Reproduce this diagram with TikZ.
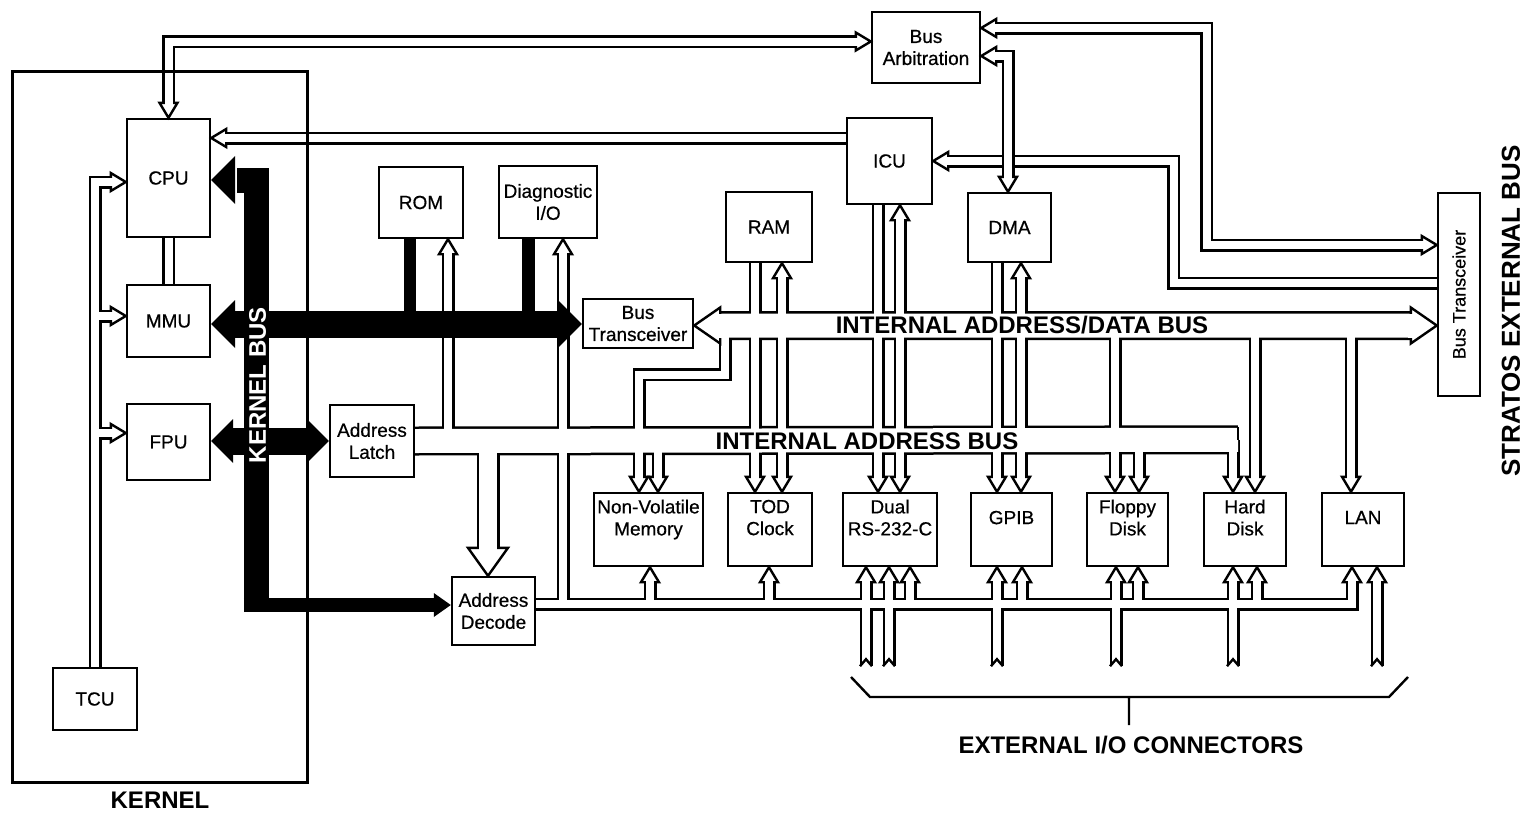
\documentclass[tikz,border=0pt]{standalone}
\usepackage{fontspec}
\setmainfont{Liberation Sans}
\newfontfamily\boxfont{Liberation Sans}[FakeBold=0.6]
\usetikzlibrary{calc,backgrounds}

\tikzset{
  box/.style={draw, line width=1.2pt, inner sep=0pt, align=center, font=\fontsize{9.5}{11}\boxfont},
  rowbox/.style={box, minimum width=#1, minimum height=36.5pt, text depth=12pt},
  bigtxt/.style={font=\fontsize{12}{14}\selectfont\bfseries, inner sep=0pt},
  pipewall/.style={line width=6.5pt},
  pipehole/.style={white, line width=4pt},
  buswall/.style={line width=14.5pt},
  bushole/.style={white, line width=12pt},
  kbus/.style={line width=12.5pt, line join=miter},
  pics/phead/.style args={#1/#2/#3}{code={
    \filldraw[fill=white, line width=1.2pt] (0,0) -- (-#1,#2) -- (-#1,-#2) -- cycle;
    \draw[white, line width=#3] (-#1-3,0) -- (-#1+3,0);
  }},
  pics/khead/.style args={#1/#2}{code={
    \fill (0,0) -- (-#1,#2) -- (-#1,-#2) -- cycle;
  }},
}

% hollow bus paths, drawn twice (walls, then holes) so that they merge
\newcommand\pipenet{
  ($(cpu.north)+(0,-15)$) |- ($(busarb.west)+(-15,-6)$)
  ($(icu.west)+(0,-23)$) -- ($(cpu.east)+(15,-40)$)
  ($(busarb.east)+(15,-19.5)$) -| ($(btr.north)+(-230,-49.5)$) -- ($(btr.north)+(-15,-49.5)$)
  ($(icu.east)+(15,0)$) -| ($(btr.north)+(-263,-11.5)$) -- ($(btr.north)+(0,-11.5)$)
  (tcu.north) |- ($(cpu.west)+(-15,4)$)
  ($(mmu.west)+(-32,-5)$) -- ($(mmu.west)+(-15,-5)$)
  ($(fpu.west)+(-32,-9)$) -- ($(fpu.west)+(-15,-9)$)
  (cpu.south) -- (mmu.north)
  ($(rom.south)+(27,15)$) -- ($(rom.south)+(27,203)$)
  ($(diag.south)+(15,15)$) -- ($(diag.south)+(15,366)$)
  ($(adec.east)+(0,-7)$) -| ($(lan.south)+(-11,15)$)
  ($(btl.east)+(31,2)$) |- ($(nvm.north)+(-9.5,-117)$) -- ($(nvm.north)+(-9.5,-15)$)
  ($(nvm.north)+(9.5,-52)$) -- ($(nvm.north)+(9.5,-15)$)
  ($(ram.south)+(-14,0)$) -- ($(tod.north)+(-15,-15)$)
  ($(ram.south)+(13,15)$) -- ($(tod.north)+(12,-15)$)
  ($(icu.south)+(-11.5,0)$) -- ($(rs.north)+(-12,-15)$)
  ($(icu.south)+(10.5,15)$) -- ($(rs.north)+(10,-15)$)
  ($(dma.south)+(-12.5,0)$) -- ($(gpib.north)+(-14.5,-15)$)
  ($(dma.south)+(11.5,15)$) -- ($(gpib.north)+(9.5,-15)$)
  ($(floppy.north)+(-12.5,-167.5)$) -- ($(floppy.north)+(-12.5,-15)$)
  ($(floppy.north)+(11.5,-52)$) -- ($(floppy.north)+(11.5,-15)$)
  ($(hdisk.north)+(-12,-52)$) -- ($(hdisk.north)+(-12,-15)$)
  ($(hdisk.north)+(10,-167.5)$) -- ($(hdisk.north)+(10,-15)$)
  ($(lan.north)+(-12,-167.5)$) -- ($(lan.north)+(-12,-15)$)
}
\newcommand\busnet{
  ($(btl.east)+(26,2)$) -- ($(btr.north)+(-26,31)$)
  (alatch.east) -- ($(hdisk.north)+(-7,-52)$)
}
\newcommand\decnet{
  ($(adec.north)+(-5.5,-136)$) -- ($(adec.north)+(-5.5,-28)$)
}
% device/offset/length of the short pipes under the device row
\newcommand\stublist{nvm/1.5/38, tod/-1/38, rs/20/38, gpib/10.5/38, floppy/10.5/38, hdisk/12/38,
  rs/-24/99, rs/-1/99, gpib/-14.5/99, floppy/-11.5/99, hdisk/-12/99, lan/14/99}

\begin{document}
\begin{tikzpicture}[x=0.5pt, y=-0.5pt]
\useasboundingbox (0,0) rectangle (1533,814);

% blocks
\node[box, minimum width=41.5pt, minimum height=59pt] (cpu) at (168.5,178) {CPU};
\node[box, minimum width=41.5pt, minimum height=36pt] (mmu) at (168.5,321) {MMU};
\node[box, minimum width=41.5pt, minimum height=38pt] (fpu) at (168.5,442) {FPU};
\node[box, minimum width=42pt, minimum height=31pt] (tcu) at (95,699) {TCU};
\node[box, minimum width=42pt, minimum height=35.5pt] (rom) at (421,202.5) {ROM};
\node[box, minimum width=49pt, minimum height=36pt] (diag) at (548,202) {Diagnostic\\I/O};
\node[box, minimum width=43pt, minimum height=35pt] (ram) at (769,227) {RAM};
\node[box, minimum width=42.5pt, minimum height=43pt] (icu) at (889.5,161) {ICU};
\node[box, minimum width=54pt, minimum height=35.5pt] (busarb) at (926,47.5) {Bus\\Arbitration};
\node[box, minimum width=41.5pt, minimum height=34.5pt] (dma) at (1009.5,227.5) {DMA};
\node[box, minimum width=55pt, minimum height=24.5pt] (btl) at (638,323.5) {Bus\\Transceiver};
\node[box, rotate=90, minimum width=101.5pt, minimum height=21pt, font=\fontsize{9}{11}\boxfont] (btr) at (1459,294.5) {Bus Transceiver};
\node[box, minimum width=42pt, minimum height=36pt] (alatch) at (372,441) {Address\\Latch};
\node[box, minimum width=41.5pt, minimum height=34pt] (adec) at (493.5,611) {Address\\Decode};
\node[rowbox=54.5pt] (nvm) at (648.5,529.5) {Non-Volatile\\Memory};
\node[rowbox=42pt] (tod) at (770,529.5) {TOD\\Clock};
\node[rowbox=47pt] (rs) at (890,529.5) {Dual\\RS-232-C};
\node[rowbox=40.5pt] (gpib) at (1011.5,529.5) {GPIB};
\node[rowbox=40.5pt] (floppy) at (1127.5,529.5) {Floppy\\Disk};
\node[rowbox=41pt] (hdisk) at (1245,529.5) {Hard\\Disk};
\node[rowbox=41pt] (lan) at (1363,529.5) {LAN};

% hollow buses
\begin{scope}[on background layer]
  \draw[pipewall] \pipenet;
  \foreach \n/\dx/\dy in \stublist
    \draw[pipewall] ($(\n.south)+(\dx,\dy)$) -- ($(\n.south)+(\dx,15)$);
  \draw[buswall] \busnet;
  \draw[line width=11.5pt] \decnet;
  \draw[pipehole] \pipenet;
  \foreach \n/\dx/\dy in \stublist
    \draw[pipehole] ($(\n.south)+(\dx,\dy)$) -- ($(\n.south)+(\dx,15)$);
  \draw[bushole] \busnet;
  \draw[white, line width=9pt] \decnet;
  \draw[line width=1.25pt] ($(hdisk.north)+(-7,-65)$) -- ($(hdisk.north)+(-7,-52)$);
  % arrow heads
  \foreach \n/\dx/\dy/\a in {cpu.north/0/0/-90, busarb.west/0/-6/0, cpu.east/0/-40/180,
      busarb.east/0/-19.5/180, btr.north/0/-49.5/0, icu.east/0/0/180, cpu.west/0/4/0,
      mmu.west/0/-5/0, fpu.west/0/-9/0, rom.south/27/0/90, diag.south/15/0/90, lan.south/-11/0/90,
      nvm.north/-9.5/0/-90, nvm.north/9.5/0/-90, tod.north/-15/0/-90, tod.north/12/0/-90,
      ram.south/13/0/90, rs.north/-12/0/-90, rs.north/10/0/-90, icu.south/10.5/0/90,
      gpib.north/-14.5/0/-90, gpib.north/9.5/0/-90, dma.south/11.5/0/90,
      floppy.north/-12.5/0/-90, floppy.north/11.5/0/-90, hdisk.north/-12/0/-90,
      hdisk.north/10/0/-90, lan.north/-12/0/-90}
    \path ($(\n)+(\dx,\dy)$) pic[rotate=\a] {phead=15/9/4pt};
  \foreach \n/\dx/\dy in \stublist
    \path ($(\n.south)+(\dx,0)$) pic[rotate=90] {phead=15/9/4pt};
  \foreach \n/\dx in {rs/-24, rs/-1, gpib/-14.5, floppy/-11.5, hdisk/-12, lan/14}
    \draw[line width=1.2pt] ($(\n.south)+(\dx-6,99)$) -- ($(\n.south)+(\dx,92)$) -- ($(\n.south)+(\dx+6,99)$);
  \path ($(btl.east)+(0,2)$) pic[rotate=180] {phead=26/18/12pt};
  \path ($(btr.north)+(0,31)$) pic {phead=26/18/12pt};
  \path ($(adec.north)+(-5.5,0)$) pic[rotate=-90] {phead=28/20/9pt};
  % bus arbitration to DMA, over the ICU path
  \draw[pipewall] ($(busarb.east)+(15,8.5)$) -| ($(dma.north)+(-1.5,-15)$);
  \draw[pipehole] ($(busarb.east)+(15,8.5)$) -| ($(dma.north)+(-1.5,-15)$);
  \path ($(busarb.east)+(0,8.5)$) pic[rotate=180] {phead=15/9/4pt};
  \path ($(dma.north)+(-1.5,0)$) pic[rotate=-90] {phead=15/9/4pt};
\end{scope}

% kernel
\node[draw, line width=1.5pt, minimum width=147.5pt, minimum height=355.5pt] (kernel) at (159.5,426.5) {};
\draw[kbus] ($(adec.west)+(-194.5,1)$) |- ($(cpu.east)+(26,2)$);
\path ($(cpu.east)+(0,2)$) pic[rotate=180] {khead=24/24};
\draw[line width=13.5pt] ($(mmu.east)+(22,3)$) -- ($(btl.west)+(-22,0.5)$);
\path ($(mmu.east)+(0,3)$) pic[rotate=180] {khead=24/24};
\path ($(btl.west)+(0,0.5)$) pic {khead=24/24};
\draw[line width=13.5pt] ($(fpu.east)+(20,-1)$) -- ($(alatch.west)+(-20,0)$);
\path ($(fpu.east)+(0,-1)$) pic[rotate=180] {khead=22/22};
\path (alatch.west) pic {khead=22/22};
\draw[line width=7pt] ($(adec.west)+(-207,-6)$) -- ($(adec.west)+(-15,-6)$);
\path ($(adec.west)+(0,-6)$) pic {khead=17/12};
\draw[line width=6pt] ($(rom.south)+(-11,0)$) -- ($(rom.south)+(-11,86)$);
\draw[line width=6.5pt] ($(diag.south)+(-19.5,0)$) -- ($(diag.south)+(-19.5,86)$);

% labels
\node[bigtxt, text=white, rotate=90] (kbuslab) at (257.5,385) {KERNEL BUS};
\node[bigtxt] (kernlab) at (160,800) {KERNEL};
\node[bigtxt] (iadblab) at (1022,325.5) {INTERNAL ADDRESS/DATA BUS};
\node[bigtxt] (iablab) at (867,441) {INTERNAL ADDRESS BUS};
\node[bigtxt, font=\fontsize{13}{15}\selectfont\bfseries, rotate=90] (extbus) at (1511,311) {STRATOS EXTERNAL BUS};
\node[bigtxt] (iolab) at (1131,745) {EXTERNAL I/O CONNECTORS};
\draw[line width=1.2pt] (851,677) -- (870,697) -- (1389,697) -- (1408,677) (1129,697) -- (1129,725);
\end{tikzpicture}
\end{document}
